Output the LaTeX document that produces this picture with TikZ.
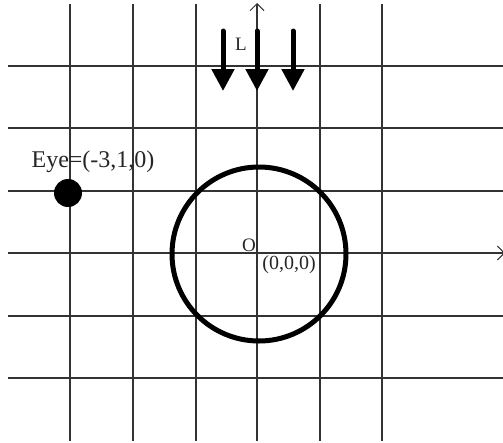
\documentclass[tikz,border=0pt]{standalone}
\usepackage{fontspec}
\setmainfont{Liberation Serif}
\usetikzlibrary{arrows.meta}
\begin{document}
\begin{tikzpicture}[x=1pt,y=-1pt,
  gridline/.style={line width=1.4pt,black!80},
  axisline/.style={line width=1.4pt,black!80,-{Straight Barb[width=14pt,length=7pt,line width=1pt]}},
  lightray/.style={line width=5pt,line cap=round,-{Triangle[width=22pt,length=22pt]}},
  lbl/.style={inner sep=0pt,text=black!85}]
\useasboundingbox (0,0) rectangle (503,442);
% vertical grid lines
\foreach \x in {70,133,196,320,382} \draw[gridline] (\x,4) -- (\x,441);
% horizontal grid lines
\foreach \y in {66,128,191,316,378} \draw[gridline] (8,\y) -- (503,\y);
% axes
\coordinate (yb) at (257,441);
\coordinate (yt) at (257,3);
\coordinate (xl) at (8,253);
\coordinate (xr) at (505,253);
\draw[axisline] (yb) -- (yt);
\draw[axisline] (xl) -- (xr);
% sphere
\node[circle,draw,line width=5pt,minimum size=174pt,inner sep=0pt] (sphere) at (259,254) {};
% eye
\node[circle,fill=black,minimum size=28pt,inner sep=0pt] (eye) at (68,193) {};
\node[lbl,font=\fontsize{24pt}{27pt}\selectfont] (eyelbl) at (93,162) {Eye=(-3,1,0)};
% light rays
\coordinate (l1s) at (223,31); \coordinate (l1e) at (223,91);
\coordinate (l2s) at (257,31); \coordinate (l2e) at (257,91);
\coordinate (l3s) at (293,31); \coordinate (l3e) at (293,91);
\draw[lightray] (l1s) -- (l1e);
\draw[lightray] (l2s) -- (l2e);
\draw[lightray] (l3s) -- (l3e);
\node[lbl,font=\fontsize{19pt}{22pt}\selectfont] (L) at (241,44) {L};
% origin labels
\node[lbl,font=\fontsize{19pt}{22pt}\selectfont] (O) at (249,245) {O};
\node[lbl,font=\fontsize{20pt}{23pt}\selectfont] (orig) at (289,265) {(0,0,0)};
\end{tikzpicture}
\end{document}
